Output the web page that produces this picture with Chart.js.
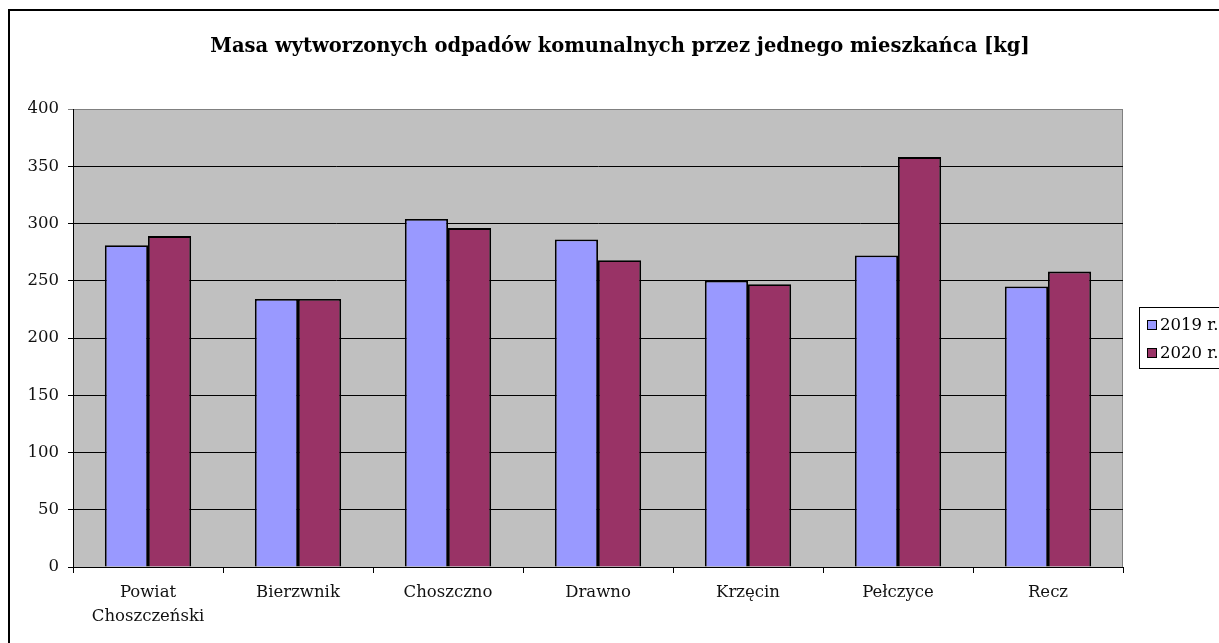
<!DOCTYPE html>
<html>
<head>
<meta charset="utf-8">
<script src="https://cdn.jsdelivr.net/npm/chart.js@4.4.1/dist/chart.umd.min.js"></script>
<style>
    html, body { margin: 0; padding: 0; background: #fff; overflow: hidden; }
    #wrap { position: relative; width: 1219px; height: 643px; }
    #frame { position: absolute; left: 8px; top: 9px; width: 1400px; height: 800px; border: 2px solid #000; pointer-events: none; }
    canvas { position: absolute; left: 0; top: 0; }
</style>
</head>
<body>
<div id="wrap">
    <canvas id="wasteChart" width="1219" height="643"></canvas>
    <div id="frame"></div>
</div>
<script>
// data
const titleText = 'Masa wytworzonych odpadów komunalnych przez jednego mieszkańca [kg]';
const categories = [['Powiat', 'Choszczeński'], 'Bierzwnik', 'Choszczno', 'Drawno', 'Krzęcin', 'Pełczyce', 'Recz'];
const seriesNames = ['2019 r.', '2020 r.'];
const values2019 = [281, 234, 304, 286, 250, 272, 245];
const values2020 = [289, 234, 296, 268, 247, 358, 258];
const seriesColors = ['#9999FF', '#993366'];

const fontFamily = '"DejaVu Serif", "Liberation Serif", serif';

// grey plot background + grey top/right edge, like the old Excel charts
const plotBackground = {
    id: 'plotBackground',
    beforeDraw(chart) {
        const { ctx, chartArea: a } = chart;
        ctx.save();
        ctx.fillStyle = '#C0C0C0';
        ctx.fillRect(a.left, a.top, a.right - a.left, a.bottom - a.top);
        ctx.strokeStyle = '#808080';
        ctx.lineWidth = 1;
        ctx.beginPath();
        ctx.moveTo(a.left, a.top + 0.5);
        ctx.lineTo(a.right - 0.5, a.top + 0.5);
        ctx.lineTo(a.right - 0.5, a.bottom);
        ctx.stroke();
        ctx.restore();
    }
};

// title and boxed legend drawn by hand
const titleAndLegend = {
    id: 'titleAndLegend',
    afterDraw(chart) {
        const { ctx, chartArea: a } = chart;
        ctx.save();
        ctx.fillStyle = '#000';
        ctx.font = 'bold 19.5px ' + fontFamily;
        ctx.textAlign = 'center';
        ctx.textBaseline = 'middle';
        ctx.fillText(titleText, 620, 47);

        const lx = a.right + 16;
        const ly = 307;
        ctx.strokeStyle = '#000';
        ctx.lineWidth = 1;
        ctx.strokeRect(lx + 0.5, ly + 0.5, 200, 61);
        ctx.font = '16.5px ' + fontFamily;
        ctx.textAlign = 'left';
        seriesNames.forEach((name, i) => {
            const cy = ly + 18 + i * 28;
            ctx.fillStyle = seriesColors[i];
            ctx.fillRect(lx + 8, cy - 5, 9, 9);
            ctx.strokeRect(lx + 8.5, cy - 4.5, 9, 9);
            ctx.fillStyle = '#000';
            ctx.fillText(name, lx + 21, cy + 1);
        });
        ctx.restore();
    }
};

const ctx = document.getElementById('wasteChart').getContext('2d');
const wasteChart = new Chart(ctx, {
    type: 'bar',
    data: {
        labels: categories,
        datasets: [{
            label: seriesNames[0],
            data: values2019,
            backgroundColor: seriesColors[0],
            borderColor: '#000',
            borderWidth: 1.8,
            categoryPercentage: 0.575,
            barPercentage: 1.0
        }, {
            label: seriesNames[1],
            data: values2020,
            backgroundColor: seriesColors[1],
            borderColor: '#000',
            borderWidth: 1.8,
            categoryPercentage: 0.575,
            barPercentage: 1.0
        }]
    },
    options: {
        responsive: false,
        animation: false,
        layout: {
            padding: { top: 109, right: 96, bottom: 0, left: 0 }
        },
        plugins: {
            legend: { display: false },
            title: { display: false },
            tooltip: { enabled: false }
        },
        scales: {
            x: {
                grid: {
                    drawOnChartArea: false,
                    drawTicks: true,
                    tickLength: 6,
                    color: '#000',
                    offset: true
                },
                border: { color: '#000', width: 1 },
                ticks: {
                    color: '#111',
                    padding: 7,
                    maxRotation: 0,
                    autoSkip: false,
                    font: { family: fontFamily, size: 16.5, lineHeight: 1.5 }
                },
                afterFit(scale) { scale.height = 76; }
            },
            y: {
                min: 0,
                max: 400,
                ticks: {
                    stepSize: 50,
                    color: '#111',
                    padding: 9,
                    font: { family: fontFamily, size: 16.5 }
                },
                grid: {
                    // top line is the grey plot edge, the rest are black
                    color: c => (c.tick && c.tick.value === 400 ? '#808080' : '#000'),
                    lineWidth: 1,
                    drawTicks: true,
                    tickLength: 5
                },
                border: { color: '#000', width: 1 },
                afterFit(scale) { scale.width = 73; }
            }
        }
    },
    plugins: [plotBackground, titleAndLegend]
});
</script>
</body>
</html>
